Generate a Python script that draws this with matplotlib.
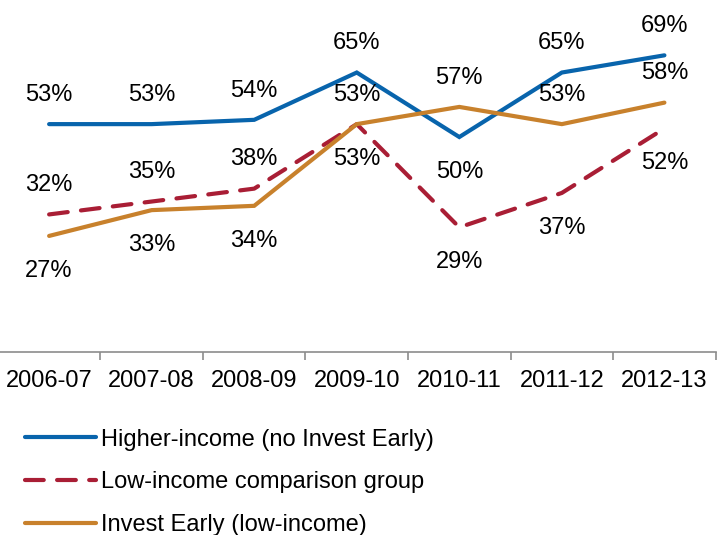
import matplotlib
matplotlib.use('Agg')
import matplotlib.pyplot as plt
import numpy as np

plt.rcParams['font.family'] = ['Liberation Sans', 'DejaVu Sans']

years = ['2006-07', '2007-08', '2008-09', '2009-10', '2010-11', '2011-12', '2012-13']
higher_income = [53, 53, 54, 65, 50, 65, 69]
low_income = [32, 35, 38, 53, 29, 37, 52]
invest_early = [27, 33, 34, 53, 57, 53, 58]

# label placement: 1 = above the point, -1 = below
higher_pos = [1, 1, 1, 1, -1, 1, 1]
low_pos = [1, 1, 1, -1, -1, -1, -1]
invest_pos = [-1, -1, -1, 1, 1, 1, 1]

fig = plt.figure(figsize=(7.2, 5.35), dpi=100)
ax = fig.add_axes([-0.003, 0.342, 0.997, 0.643])

x = np.arange(len(years))
blue = '#0864AC'
red = '#A91E35'
orange = '#C8812C'

l1, = ax.plot(x, higher_income, color=blue, lw=3, solid_capstyle='round',
              solid_joinstyle='miter')
l2, = ax.plot(x, low_income, color=red, lw=3, dashes=(4.5, 3.2),
              dash_capstyle='round')
l3, = ax.plot(x, invest_early, color=orange, lw=3, solid_capstyle='round',
              solid_joinstyle='miter')

for vals, pos in [(higher_income, higher_pos), (low_income, low_pos),
                  (invest_early, invest_pos)]:
    for xi, v, p in zip(x, vals, pos):
        off = 21 if p > 0 else -25
        ax.annotate(f'{v}%', (xi, v), xytext=(0, off), textcoords='offset points',
                    ha='center', va='center', fontsize=17)

ax.set_xlim(-0.5, 6.5)
ax.set_ylim(0, 80)
ax.set_yticks([])
for s in ['left', 'right', 'top']:
    ax.spines[s].set_visible(False)
ax.spines['bottom'].set_color('#8c8c8c')
ax.spines['bottom'].set_linewidth(1.2)

ax.set_xticks(x)
ax.set_xticklabels(years, fontsize=17)
ax.tick_params(axis='x', which='major', length=0, pad=13)
ax.set_xticks(np.arange(-0.5, 7, 1), minor=True)
ax.tick_params(axis='x', which='minor', length=6, color='#8c8c8c', width=1.2)

fig.legend([l1, l2, l3],
           ['Higher-income (no Invest Early)', 'Low-income comparison group',
            'Invest Early (low-income)'],
           loc='upper left', bbox_to_anchor=(0.022, 0.2165), frameon=False,
           fontsize=17, handlelength=3.0, handletextpad=0.2, labelspacing=0.88,
           borderaxespad=0)

fig.savefig('out.png', dpi=100)
